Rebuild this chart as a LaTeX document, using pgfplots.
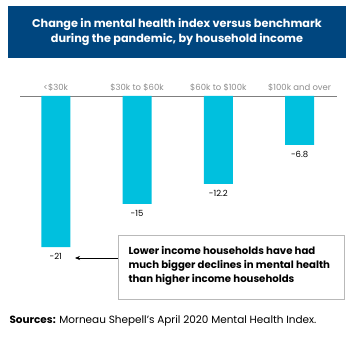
\documentclass[border=0pt]{standalone}
\usepackage{pgfplots}
\pgfplotsset{compat=1.18}
\usepackage{fontspec}
\setmainfont{Poppins}
\usetikzlibrary{arrows.meta}
\definecolor{titleblue}{HTML}{00467F}
\definecolor{barcyan}{HTML}{00C0DE}
\definecolor{labgray}{HTML}{8C8C8C}
\definecolor{axgray}{HTML}{7F7F7F}
\begin{document}
\begin{tikzpicture}[x=1bp,y=1bp]
\path (0,0) rectangle (361,337);
\fill[titleblue] (8,279) rectangle (346,331);
\node[text=white, font=\fontsize{11.3}{15}\selectfont\bfseries, align=center] at (177,305) {Change in mental health index versus benchmark\\during the pandemic, by household income};
\begin{axis}[
  at={(20bp,82.6bp)}, anchor=south west, scale only axis,
  width=317bp, height=158.4bp,
  xmin=-0.44, xmax=3.46, ymin=-22, ymax=0,
  axis x line*=top, axis y line=none,
  x axis line style={axgray, line width=0.8bp, -},
  xtick=data, xticklabels={{<\$30k},{\$30k to \$60k},{\$60k to \$100k},{\$100k and over}},
  major tick length=0pt,
  xticklabel style={text=labgray, font=\fontsize{8.5}{10}\selectfont, yshift=1bp},
  ytick=\empty,
  ybar, bar width=29bp,
  nodes near coords,
  every node near coord/.append style={anchor=north, yshift=-3bp, font=\fontsize{8.5}{10}\selectfont, text=black},
  /pgf/number format/assume math mode=true,
  clip=false,
]
\addplot[fill=barcyan, draw=none] coordinates {(0,-21) (1,-15) (2,-12.2) (3,-6.8)};
\end{axis}
\draw[draw=gray!55, line width=0.8bp] (118,38) rectangle (344,102);
\node[anchor=west, align=left, font=\fontsize{10.2}{14}\selectfont\bfseries] at (125,71) {Lower income households have had\\much bigger declines in mental health\\than higher income households};
\draw[-{Stealth[length=5bp,width=4bp]}, line width=0.6bp] (118,79) -- (75,79);
\node[anchor=west, font=\fontsize{10.5}{12}\selectfont] at (6,16) {\textbf{Sources:} Morneau Shepell's April 2020 Mental Health Index.};
\end{tikzpicture}
\end{document}
